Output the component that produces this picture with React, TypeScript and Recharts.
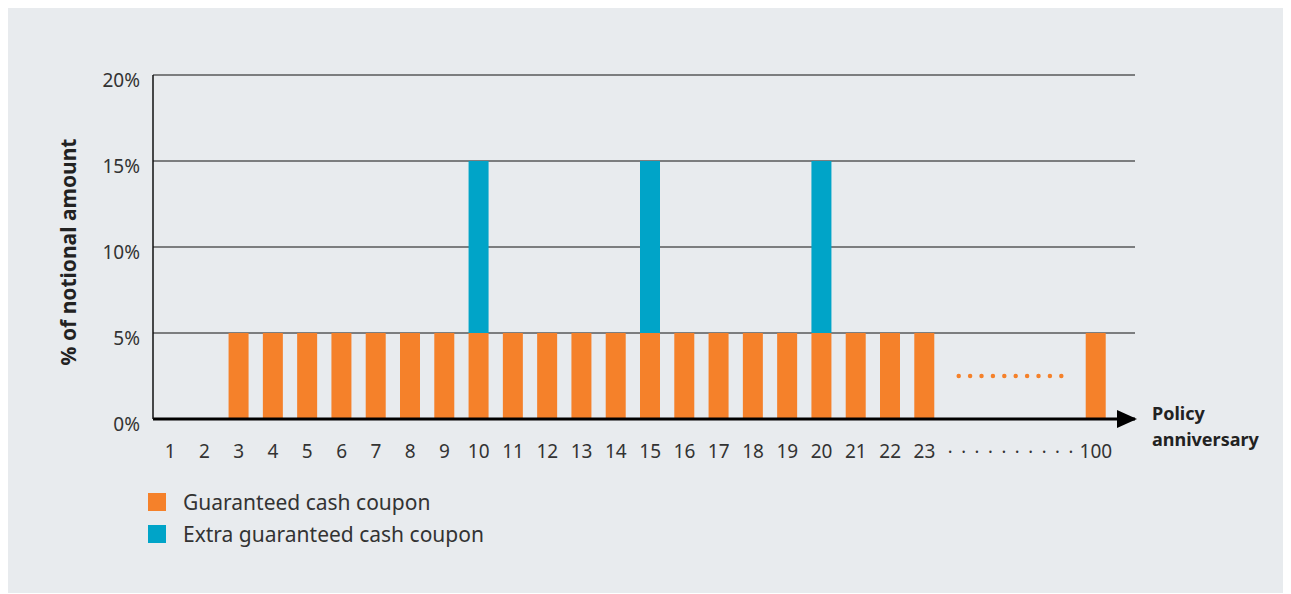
import {
  ComposedChart,
  Bar,
  Line,
  XAxis,
  YAxis,
  CartesianGrid,
  Label,
} from "recharts";

// policy anniversaries; g1..g4 are the skipped years shown as dots
const years = [
  "1", "2", "3", "4", "5", "6", "7", "8", "9", "10", "11", "12",
  "13", "14", "15", "16", "17", "18", "19", "20", "21", "22", "23",
  "g1", "g2", "g3", "g4", "100",
];
const guaranteed = [
  0, 0, 5, 5, 5, 5, 5, 5, 5, 5, 5, 5, 5, 5, 5, 5, 5, 5, 5, 5, 5, 5, 5,
  null, null, null, null, 5,
];
const extra = [
  0, 0, 0, 0, 0, 0, 0, 0, 0, 10, 0, 0, 0, 0, 10, 0, 0, 0, 0, 10, 0, 0, 0,
  null, null, null, null, 0,
];
const ellipsis = [
  null, null, null, null, null, null, null, null, null, null, null, null,
  null, null, null, null, null, null, null, null, null, null, null,
  2.5, 2.5, 2.5, 2.5, null,
];
const yTicks = [0, 5, 10, 15, 20];

const ORANGE = "#f5812a";
const TEAL = "#00a4c8";
const BG = "#e8ebee";
const FONT = "'Noto Sans', sans-serif";

const data = years.map((y, i) => ({
  year: y,
  guaranteed: guaranteed[i],
  extra: extra[i],
  ellipsis: ellipsis[i],
}));

function XTick({ x, y, payload }: any) {
  const v = String(payload.value);
  if (v === "g1") {
    return (
      <text
        x={x - 11}
        y={y + 37}
        fontSize={18}
        fill="#333"
        fontFamily={FONT}
        letterSpacing={8.6}
      >
        {"··········"}
      </text>
    );
  }
  if (v.startsWith("g")) return null;
  return (
    <text x={x} y={y + 37} textAnchor="middle" fontSize={19} fill="#333" fontFamily={FONT}>
      {v}
    </text>
  );
}

function YTick({ x, y, payload }: any) {
  return (
    <text x={x} y={y + 5} dy="0.355em" textAnchor="end" fontSize={19} fill="#333" fontFamily={FONT}>
      {`${payload.value}%`}
    </text>
  );
}

function YLabel({ viewBox }: any) {
  const cx = 60;
  const cy = viewBox.y + viewBox.height / 2 + 5;
  return (
    <text
      x={cx}
      y={cy}
      transform={`rotate(-90, ${cx}, ${cy})`}
      textAnchor="middle"
      dominantBaseline="central"
      fontSize={21}
      fontWeight={700}
      fill="#222"
      fontFamily={FONT}
    >
      % of notional amount
    </text>
  );
}

export default function App() {
  return (
    <div style={{ position: "relative", width: 1277, height: 585, background: BG, fontFamily: FONT }}>
      <ComposedChart
        width={1277}
        height={585}
        data={data}
        margin={{ top: 67, right: 150, bottom: 144, left: 0 }}
      >
        <defs>
          <marker
            id="axis-arrow"
            markerUnits="userSpaceOnUse"
            markerWidth={22}
            markerHeight={20}
            refX={18}
            refY={10}
            orient="auto"
          >
            <path d="M0,1 L20,10 L0,19 z" fill="#000" />
          </marker>
        </defs>
        <CartesianGrid vertical={false} stroke="#111" strokeWidth={1} />
        <XAxis
          dataKey="year"
          interval={0}
          height={30}
          tickLine={false}
          tickSize={0}
          tick={<XTick />}
          padding={{ left: 0, right: 22 }}
          axisLine={{ stroke: "#000", strokeWidth: 3, markerEnd: "url(#axis-arrow)" }}
        />
        <YAxis
          width={145}
          domain={[0, 20]}
          ticks={yTicks}
          tickLine={false}
          tickSize={0}
          tickMargin={13}
          tick={<YTick />}
          axisLine={{ stroke: "#111", strokeWidth: 1.5 }}
        >
          <Label content={<YLabel />} />
        </YAxis>
        <Bar dataKey="guaranteed" stackId="a" fill={ORANGE} barSize={20} isAnimationActive={false} />
        <Bar dataKey="extra" stackId="a" fill={TEAL} barSize={20} isAnimationActive={false} />
        <Line
          dataKey="ellipsis"
          stroke={ORANGE}
          strokeWidth={4.5}
          strokeLinecap="round"
          strokeDasharray="0 11.4"
          dot={false}
          activeDot={false}
          isAnimationActive={false}
        />
      </ComposedChart>
      <div
        style={{
          position: "absolute",
          left: 1144,
          top: 392,
          fontSize: 18,
          fontWeight: 700,
          lineHeight: "26px",
          color: "#222",
        }}
      >
        Policy
        <br />
        anniversary
      </div>
      <div style={{ position: "absolute", left: 140, top: 478, fontSize: 21, color: "#333" }}>
        {[
          { label: "Guaranteed cash coupon", color: ORANGE },
          { label: "Extra guaranteed cash coupon", color: TEAL },
        ].map((item) => (
          <div key={item.label} style={{ display: "flex", alignItems: "center", height: 32 }}>
            <span style={{ width: 18, height: 18, background: item.color, marginRight: 17 }} />
            <span>{item.label}</span>
          </div>
        ))}
      </div>
    </div>
  );
}
